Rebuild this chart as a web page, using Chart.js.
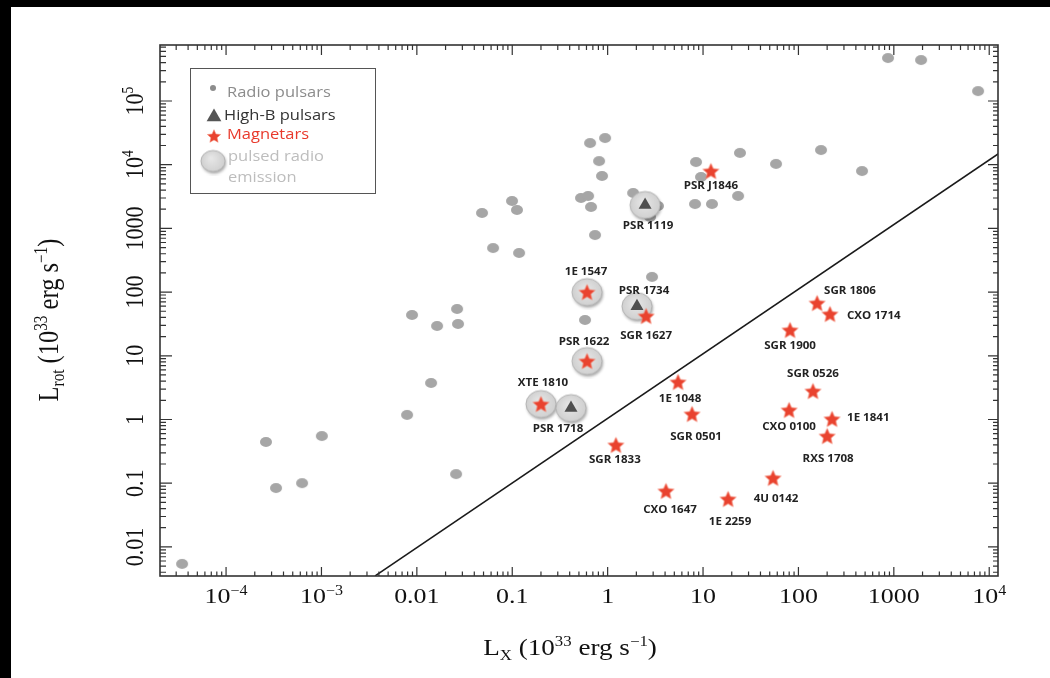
<!DOCTYPE html>
<html>
<head>
<meta charset="utf-8">
<script src="https://cdn.jsdelivr.net/npm/chart.js@4.4.0/dist/chart.umd.min.js"></script>
<style>
  html, body { margin: 0; padding: 0; background: #000; }
  canvas { display: block; }
</style>
</head>
<body>
<canvas id="chart" width="1050" height="678"></canvas>
<script>
// Radio pulsars (Lx, Lrot in 1e33 erg/s)
const radioLx = [3.46e-5, 2.62e-4, 3.34e-4, 6.27e-4, 1.01e-3, 7.9e-3, 0.0141, 0.0258, 0.0089, 0.0163,
                 0.0264, 0.027, 0.0482, 0.063, 0.0995, 0.112, 0.118, 0.655, 0.94, 0.813,
                 0.873, 0.526, 0.624, 0.67, 0.738, 1.85, 3.37, 2.78, 8.45, 9.53,
                 8.24, 12.4, 24.4, 23.3, 2.92, 0.579, 869, 1930, 7640, 172.6,
                 58.2, 464];
const radioLrot = [0.0054, 0.444, 0.084, 0.10, 0.55, 1.18, 3.74, 0.139, 43.7, 29.4,
                   54.3, 31.6, 1746, 492, 2692, 1945, 411, 21900, 26200, 11400,
                   6650, 3000, 3230, 2170, 787, 3600, 2250, 1510, 11000, 6410,
                   2415, 2415, 15300, 3230, 173, 36.5, 473000, 440000, 143000, 17000,
                   10300, 7960];

// High-B pulsars
const highBNames = ['PSR 1119', 'PSR 1734', 'PSR 1718'];
const highBLx = [2.47, 2.03, 0.413];
const highBLrot = [2330, 60, 1.51];

// Magnetars
const magnetarNames = ['PSR J1846', '1E 1547', 'SGR 1627', 'PSR 1622', 'XTE 1810', '1E 1048',
                       'SGR 0501', 'SGR 1833', 'CXO 1647', '1E 2259', '4U 0142', 'CXO 0100',
                       'SGR 0526', '1E 1841', 'RXS 1708', 'SGR 1806', 'CXO 1714', 'SGR 1900'];
const magnetarLx = [12.1, 0.608, 2.53, 0.608, 0.2, 5.47,
                    7.67, 1.22, 4.09, 18.3, 54.2, 79.8,
                    142, 225, 200, 157, 214, 81.7];
const magnetarLrot = [7960, 100, 42.2, 8.28, 1.75, 3.88,
                      1.22, 0.398, 0.0755, 0.0565, 0.121, 1.41,
                      2.8, 1.02, 0.55, 67.4, 45.3, 25.4];

// sources with pulsed radio emission
const pulsedRadio = ['1E 1547', 'PSR 1622', 'XTE 1810', 'PSR 1718', 'PSR 1734', 'PSR 1119'];

// Lrot = Lx reference line
const lineLx = [0.00365, 13000];
const lineLrot = [0.0035, 15500];

const xTickValues = [1e-4, 1e-3, 0.01, 0.1, 1, 10, 100, 1000, 1e4];
const xTickLabels = ['10^\u22124', '10^\u22123', '0.01', '0.1', '1', '10', '100', '1000', '10^4'];
const yTickValues = [0.01, 0.1, 1, 10, 100, 1000, 1e4, 1e5];
const yTickLabels = ['0.01', '0.1', '1', '10', '100', '1000', '10^4', '10^5'];

// label placement: [dx, dy, align]
const labelOffsets = {
  'PSR J1846': [0, 15], 'PSR 1119': [3, 21], '1E 1547': [-1, -20], 'PSR 1734': [7, -15],
  'SGR 1627': [0, 20], 'PSR 1622': [-3, -19], 'XTE 1810': [2, -21], 'PSR 1718': [-13, 21],
  '1E 1048': [2, 17], 'SGR 0501': [4, 23], 'SGR 1833': [-1, 15], 'CXO 1647': [4, 19],
  '1E 2259': [2, 23], '4U 0142': [3, 21], 'CXO 0100': [0, 17], 'SGR 0526': [0, -17],
  '1E 1841': [15, -1, 'left'], 'RXS 1708': [1, 23], 'SGR 1806': [7, -12, 'left'],
  'CXO 1714': [17, 2, 'left'], 'SGR 1900': [0, 16]
};

const SERIF = '"Liberation Serif", "DejaVu Serif", serif';
const SANS = '"Open Sans", "Noto Sans", sans-serif';

function makeStar(R, color) {
  const s = Math.ceil(R * 2 + 4);
  const c = document.createElement('canvas');
  c.width = s; c.height = s;
  const g = c.getContext('2d');
  g.translate(s / 2, s / 2 + R * 0.095);
  g.beginPath();
  for (let i = 0; i < 10; i++) {
    const r = i % 2 ? R * 0.47 : R;
    const a = -Math.PI / 2 + i * Math.PI / 5;
    g.lineTo(r * Math.cos(a), r * Math.sin(a));
  }
  g.closePath();
  g.fillStyle = color;
  g.fill();
  g.strokeStyle = 'rgba(245,140,120,0.7)';
  g.lineWidth = 0.8;
  g.stroke();
  return c;
}

function makeDot(rx, ry, color) {
  const c = document.createElement('canvas');
  c.width = Math.ceil(rx * 2 + 2); c.height = Math.ceil(ry * 2 + 2);
  const g = c.getContext('2d');
  g.beginPath();
  g.ellipse(c.width / 2, c.height / 2, rx, ry, 0, 0, Math.PI * 2);
  g.fillStyle = color;
  g.fill();
  return c;
}

function makeHalo(rx, ry) {
  const c = document.createElement('canvas');
  c.width = Math.ceil(rx * 2 + 8); c.height = Math.ceil(ry * 2 + 8);
  const g = c.getContext('2d');
  const cx = c.width / 2, cy = c.height / 2;
  g.shadowColor = 'rgba(0,0,0,0.35)';
  g.shadowBlur = 3;
  g.shadowOffsetX = 1;
  g.shadowOffsetY = 2;
  const grd = g.createRadialGradient(cx - 2, cy - 3, 1, cx, cy, rx);
  grd.addColorStop(0, '#e6e6e6');
  grd.addColorStop(1, '#cfcfcf');
  g.beginPath();
  g.ellipse(cx, cy, rx, ry, 0, 0, Math.PI * 2);
  g.fillStyle = grd;
  g.fill();
  g.shadowColor = 'transparent';
  g.strokeStyle = '#b4b4b4';
  g.lineWidth = 1;
  g.stroke();
  return c;
}

const starImg = makeStar(8.5, '#e9432f');
const dotImg = makeDot(6, 5, '#a6a6a6');
const haloImg = makeHalo(15, 13.5);

// parse '10^-4' style into parts
function parseLabel(s) {
  const i = s.indexOf('^');
  if (i < 0) return [[s]];
  return [[s.slice(0, i)], [s.slice(i + 1), 'sup']];
}

// rich text: parts [[text, 'sup'|'sub'], ...], (x, y) = baseline centre
function drawRich(ctx, parts, x, y, size, family, color, sx, rotate, align) {
  ctx.save();
  ctx.translate(x, y);
  ctx.scale(sx, 1);
  if (rotate) ctx.rotate(-Math.PI / 2);
  ctx.fillStyle = color;
  ctx.textBaseline = 'alphabetic';
  ctx.textAlign = 'left';
  const widths = parts.map(p => {
    ctx.font = (p[1] ? size * 0.62 : size) + 'px ' + family;
    return ctx.measureText(p[0]).width;
  });
  const total = widths.reduce((a, b) => a + b, 0);
  let cx = align === 'left' ? 0 : -total / 2;
  parts.forEach((p, i) => {
    ctx.font = (p[1] ? size * 0.62 : size) + 'px ' + family;
    const dy = p[1] === 'sup' ? -size * 0.38 : p[1] === 'sub' ? size * 0.22 : 0;
    ctx.fillText(p[0], cx, dy);
    cx += widths[i];
  });
  ctx.restore();
}

function drawLabel(ctx, text, x, y, align) {
  ctx.save();
  ctx.translate(x, y);
  ctx.scale(1.05, 1);
  ctx.font = 'bold 11px ' + SANS;
  ctx.fillStyle = '#222';
  ctx.textAlign = align || 'center';
  ctx.textBaseline = 'middle';
  ctx.fillText(text, 0, 0);
  ctx.restore();
}

function drawTriangle(ctx, x, y, r, color) {
  ctx.beginPath();
  ctx.moveTo(x, y - r);
  ctx.lineTo(x + r * 0.866, y + r * 0.5);
  ctx.lineTo(x - r * 0.866, y + r * 0.5);
  ctx.closePath();
  ctx.fillStyle = color;
  ctx.fill();
}

const decor = {
  id: 'decor',
  beforeDraw(chart) {
    const ctx = chart.ctx;
    ctx.save();
    ctx.fillStyle = '#000';
    ctx.fillRect(0, 0, chart.width, chart.height);
    ctx.fillStyle = '#fff';
    ctx.fillRect(11, 7, chart.width - 11, chart.height - 7);
    ctx.restore();
  },
  afterDatasetsDraw(chart) {
    const ctx = chart.ctx;
    const a = chart.chartArea;
    const xs = chart.scales.x, ys = chart.scales.y;
    ctx.save();

    // frame
    ctx.strokeStyle = '#333';
    ctx.lineWidth = 1.6;
    ctx.strokeRect(a.left, a.top, a.right - a.left, a.bottom - a.top);

    // inward log ticks on all four sides
    ctx.lineWidth = 1.2;
    ctx.beginPath();
    for (let d = -6; d <= 6; d++) {
      for (let m = 1; m <= 9; m++) {
        const v = m * Math.pow(10, d);
        const major = m === 1;
        if (v >= xs.min && v <= xs.max) {
          const px = xs.getPixelForValue(v);
          const lb = major ? 9 : 4.5, lt = major ? 10 : 5;
          ctx.moveTo(px, a.bottom); ctx.lineTo(px, a.bottom - lb);
          ctx.moveTo(px, a.top); ctx.lineTo(px, a.top + lt);
        }
        if (v >= ys.min && v <= ys.max) {
          const py = ys.getPixelForValue(v);
          const ll = major ? 12 : 6, lr = major ? 10 : 5;
          ctx.moveTo(a.left, py); ctx.lineTo(a.left + ll, py);
          ctx.moveTo(a.right, py); ctx.lineTo(a.right - lr, py);
        }
      }
    }
    ctx.stroke();

    // tick labels
    xTickValues.forEach((v, i) => {
      drawRich(ctx, parseLabel(xTickLabels[i]), xs.getPixelForValue(v), 603, 22, SERIF, '#111', 1.18, false);
    });
    yTickValues.forEach((v, i) => {
      drawRich(ctx, parseLabel(yTickLabels[i]), 143, ys.getPixelForValue(v), 22, SERIF, '#111', 1.18, true);
    });

    // axis titles
    drawRich(ctx, [['L'], ['X', 'sub'], [' (10'], ['33', 'sup'], [' erg s'], ['\u22121', 'sup'], [')']],
      570, 655, 23, SERIF, '#111', 1.18, false);
    drawRich(ctx, [['L'], ['rot', 'sub'], [' (10'], ['33', 'sup'], [' erg s'], ['\u22121', 'sup'], [')']],
      58, 320, 24.5, SERIF, '#111', 1.18, true);

    // source labels
    const put = (name, lx, lr) => {
      const o = labelOffsets[name];
      if (!o) return;
      drawLabel(ctx, name, xs.getPixelForValue(lx) + o[0], ys.getPixelForValue(lr) + o[1], o[2]);
    };
    magnetarNames.forEach((n, i) => put(n, magnetarLx[i], magnetarLrot[i]));
    highBNames.forEach((n, i) => put(n, highBLx[i], highBLrot[i]));

    // legend
    ctx.strokeStyle = '#555';
    ctx.lineWidth = 1;
    ctx.strokeRect(190.5, 68.5, 185, 125);
    ctx.beginPath();
    ctx.arc(213, 88, 3, 0, Math.PI * 2);
    ctx.fillStyle = '#8c8c8c';
    ctx.fill();
    drawTriangle(ctx, 214, 117, 8.5, '#555');
    ctx.drawImage(makeStar(7, '#e9432f'), 213 - 8, 135 - 8);
    const lh = makeHalo(12, 10.5);
    ctx.drawImage(lh, 213 - lh.width / 2, 161 - lh.height / 2);
    const legendText = (t, x, y, color) => {
      ctx.save();
      ctx.translate(x, y);
      ctx.scale(1.1, 1);
      ctx.font = '15px ' + SANS;
      ctx.fillStyle = color;
      ctx.textBaseline = 'middle';
      ctx.textAlign = 'left';
      ctx.fillText(t, 0, 0);
      ctx.restore();
    };
    legendText('Radio pulsars', 227, 93, '#8c8c8c');
    legendText('High-B pulsars', 224, 116, '#333');
    legendText('Magnetars', 227, 135, '#e8392b');
    legendText('pulsed radio', 228, 157, '#bdbdbd');
    legendText('emission', 228, 178, '#bdbdbd');

    ctx.restore();
  }
};

const pts = (xsArr, ysArr) => xsArr.map((x, i) => ({ x: x, y: ysArr[i] }));

const haloData = [];
magnetarNames.forEach((n, i) => { if (pulsedRadio.includes(n)) haloData.push({ x: magnetarLx[i], y: magnetarLrot[i] }); });
highBNames.forEach((n, i) => { if (pulsedRadio.includes(n)) haloData.push({ x: highBLx[i], y: highBLrot[i] }); });

new Chart(document.getElementById('chart'), {
  type: 'scatter',
  data: {
    datasets: [
      {
        label: 'Lrot = Lx',
        data: pts(lineLx, lineLrot),
        showLine: true,
        borderColor: '#1a1a1a',
        borderWidth: 1.5,
        pointRadius: 0,
        order: 5
      },
      {
        label: 'Radio pulsars',
        data: pts(radioLx, radioLrot),
        pointStyle: dotImg,
        pointRadius: 6,
        order: 4
      },
      {
        label: 'pulsed radio emission',
        data: haloData,
        pointStyle: haloImg,
        pointRadius: 15,
        order: 3
      },
      {
        label: 'High-B pulsars',
        data: pts(highBLx, highBLrot),
        pointStyle: 'triangle',
        pointRadius: 7.5,
        backgroundColor: '#4f4f4f',
        borderWidth: 0,
        order: 2
      },
      {
        label: 'Magnetars',
        data: pts(magnetarLx, magnetarLrot),
        pointStyle: starImg,
        pointRadius: 9,
        order: 1
      }
    ]
  },
  options: {
    responsive: false,
    animation: false,
    layout: { padding: { left: 160, top: 45, right: 52, bottom: 102 } },
    scales: {
      x: { type: 'logarithmic', min: 2.03e-5, max: 12360, display: false },
      y: { type: 'logarithmic', min: 3.49e-3, max: 7.57e5, display: false }
    },
    plugins: {
      legend: { display: false },
      tooltip: { enabled: false }
    }
  },
  plugins: [decor]
});
</script>
</body>
</html>
